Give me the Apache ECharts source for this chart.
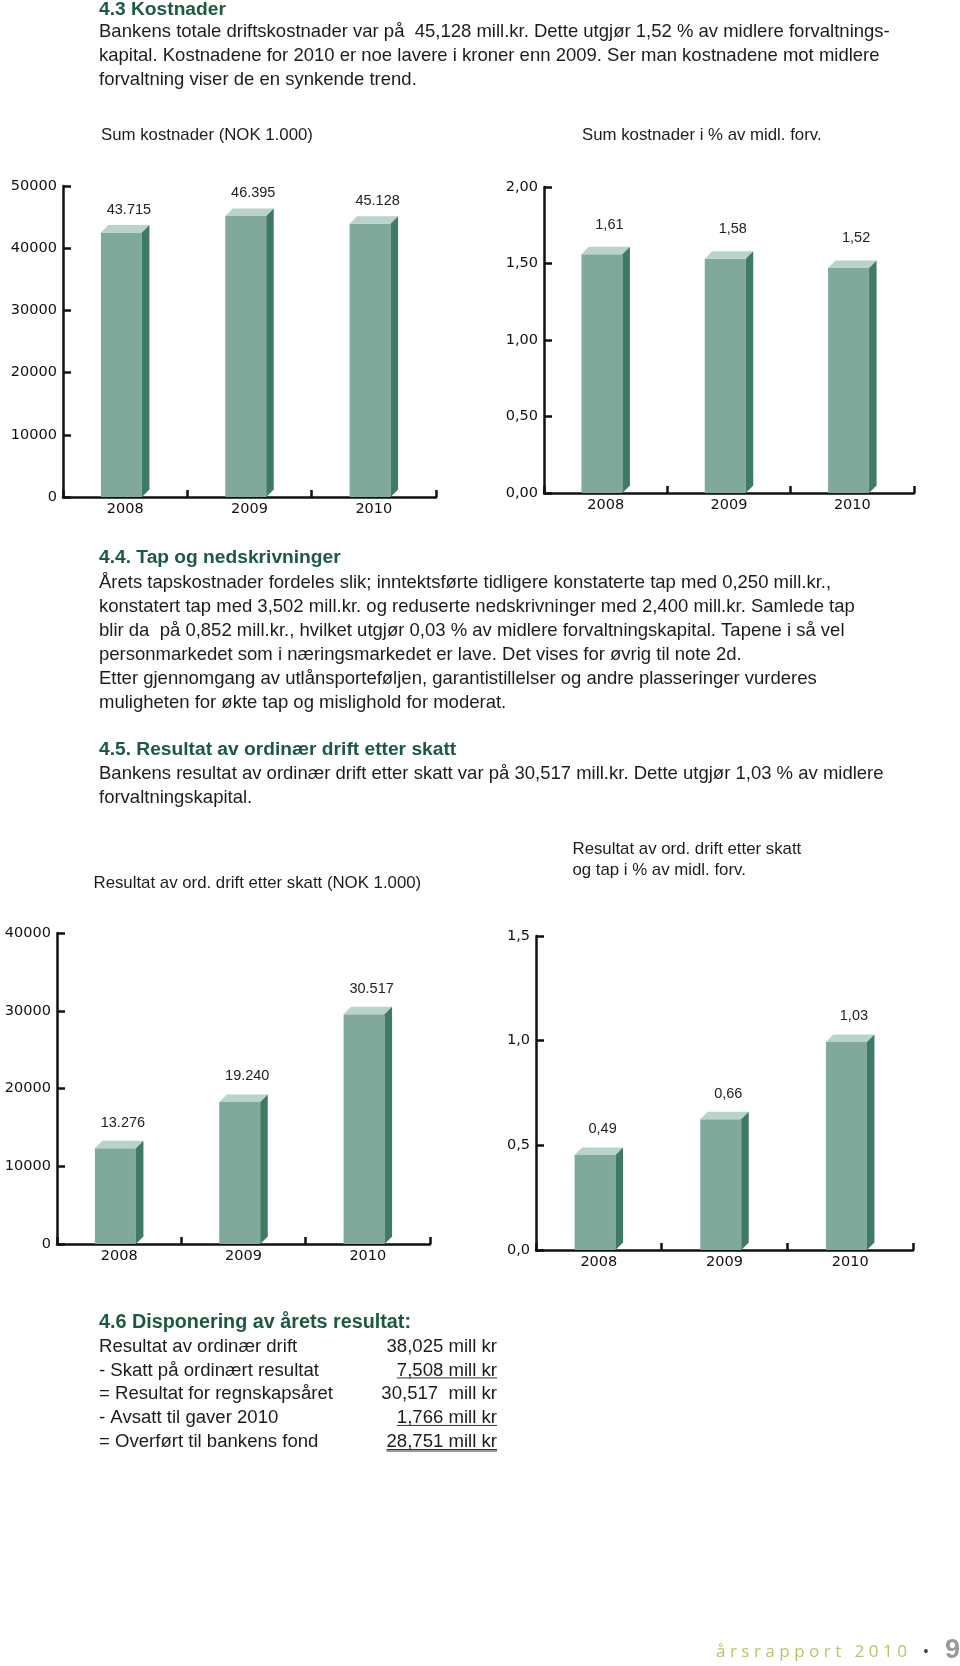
<!DOCTYPE html>
<html><head><meta charset="utf-8">
<script src="https://cdn.jsdelivr.net/npm/echarts@6/dist/echarts.min.js"></script>
<style>html,body{margin:0;padding:0;background:#fff}#c{width:960px;height:1666px}</style>
</head><body><div id="c"></div>
<script>
// ---------- data ----------
const years = ['2008', '2009', '2010'];
const costNOK = [43715, 46395, 45128];
const costPct = [1.61, 1.58, 1.52];
const resultNOK = [13276, 19240, 30517];
const resultPct = [0.49, 0.66, 1.03];
const costNOKTicks = [0, 10000, 20000, 30000, 40000, 50000];
const costPctTicks = [0, 0.5, 1.0, 1.5, 2.0];
const resultNOKTicks = [0, 10000, 20000, 30000, 40000];
const resultPctTicks = [0, 0.5, 1.0, 1.5];

const chartTitles = [
  'Sum kostnader (NOK 1.000)',
  'Sum kostnader i % av midl. forv.',
  'Resultat av ord. drift etter skatt (NOK 1.000)',
  'Resultat av ord. drift etter skatt',
  'og tap i % av midl. forv.'
];
const head43 = '4.3 Kostnader';
const text43 = [
  'Bankens totale driftskostnader var på  45,128 mill.kr. Dette utgjør 1,52 % av midlere forvaltnings-',
  'kapital. Kostnadene for 2010 er noe lavere i kroner enn 2009. Ser man kostnadene mot midlere',
  'forvaltning viser de en synkende trend.'
];
const head44 = '4.4. Tap og nedskrivninger';
const text44 = [
  'Årets tapskostnader fordeles slik; inntektsførte tidligere konstaterte tap med 0,250 mill.kr.,',
  'konstatert tap med 3,502 mill.kr. og reduserte nedskrivninger med 2,400 mill.kr. Samlede tap',
  'blir da  på 0,852 mill.kr., hvilket utgjør 0,03 % av midlere forvaltningskapital. Tapene i så vel',
  'personmarkedet som i næringsmarkedet er lave. Det vises for øvrig til note 2d.',
  'Etter gjennomgang av utlånsporteføljen, garantistillelser og andre plasseringer vurderes',
  'muligheten for økte tap og mislighold for moderat.'
];
const head45 = '4.5. Resultat av ordinær drift etter skatt';
const text45 = [
  'Bankens resultat av ordinær drift etter skatt var på 30,517 mill.kr. Dette utgjør 1,03 % av midlere',
  'forvaltningskapital.'
];
const head46 = '4.6 Disponering av årets resultat:';
const tableLabels = [
  'Resultat av ordinær drift',
  '- Skatt på ordinært resultat',
  '= Resultat for regnskapsåret',
  '- Avsatt til gaver 2010',
  '= Overført til bankens fond'
];
const tableValues = ['38,025 mill kr', '7,508 mill kr', '30,517  mill kr', '1,766 mill kr', '28,751 mill kr'];
const tableUnderline = [0, 1, 0, 1, 2];
const footerText = 'å r s r a p p o r t   2 0 1 0';
const pageNo = '9';

// ---------- helpers ----------
const mctx = document.createElement('canvas').getContext('2d');
function measure(t, font) { mctx.font = font; return mctx.measureText(t).width; }
function fit(t, weight, fam, target) { return 100 * target / measure(t, weight + ' 100px ' + fam); }
const SANS = '"Liberation Sans", Arial, sans-serif';
const AX = '"DejaVu Sans", sans-serif';

const fmtThousand = v => String(Math.round(v)).replace(/\B(?=(\d{3})+(?!\d))/g, '.');
const fmtDec = d => v => v.toFixed(d).replace('.', ',');

const GREEN_HEAD = '#1b5a3e';
const TXT = '#1c1c1c';

const bodySize = fit(text43[0], '', '"Liberation Sans"', 791);
const headSize = fit(head43, 'bold', '"Liberation Sans"', 127);
const titleSize = fit(chartTitles[2], '', '"Liberation Sans"', 328);
const tabSize = fit(tableLabels[2], '', '"Liberation Sans"', 234);
const tabHeadSize = fit(head46, 'bold', '"Liberation Sans"', 312);

const graphics = [];
function T(text, x, y, size, opts) {
  opts = opts || {};
  const font = (opts.weight || 'normal') + ' ' + size.toFixed(2) + 'px ' + (opts.family || SANS);
  graphics.push({
    type: 'text', x: x, y: y, silent: true,
    style: {
      text: text, font: font, fill: opts.fill || TXT,
      align: opts.align || 'left', textAlign: opts.align || 'left',
      verticalAlign: 'middle', textVerticalAlign: 'middle'
    }
  });
  return font;
}
function L(x1, y1, x2, y2, w, c) {
  graphics.push({ type: 'line', silent: true, shape: { x1: x1, y1: y1, x2: x2, y2: y2 }, style: { stroke: c, lineWidth: w } });
}

// section 4.3
T(head43, 99, 9.5, headSize, { weight: 'bold', fill: GREEN_HEAD });
text43.forEach((s, i) => T(s, 99, 32 + i * 24, bodySize));
// chart titles
T(chartTitles[0], 101, 135, titleSize);
T(chartTitles[1], 582, 135, titleSize);
T(chartTitles[2], 93.5, 883, titleSize);
T(chartTitles[3], 572.5, 849, titleSize);
T(chartTitles[4], 572.5, 870.5, titleSize);
// section 4.4
T(head44, 99, 558, headSize, { weight: 'bold', fill: GREEN_HEAD });
text44.forEach((s, i) => T(s, 99, 582.5 + i * 24, bodySize));
// section 4.5
T(head45, 99, 750, headSize, { weight: 'bold', fill: GREEN_HEAD });
text45.forEach((s, i) => T(s, 99, 774 + i * 24, bodySize));
// section 4.6
T(head46, 99, 1323, tabHeadSize, { weight: 'bold', fill: GREEN_HEAD });
tableLabels.forEach((s, i) => {
  const y = 1346.7 + i * 23.75;
  T(s, 99, y, tabSize);
  const f = T(tableValues[i], 497, y, tabSize, { align: 'right' });
  const w = measure(tableValues[i], f);
  if (tableUnderline[i] === 1) L(497 - w, y + 7.5, 497, y + 7.5, 1, '#333');
  if (tableUnderline[i] === 2) { L(497 - w, y + 8, 497, y + 8, 1.6, '#333'); L(497 - w, y + 9.8, 497, y + 9.8, 1.2, '#999'); }
});
// footer
const footSize = fit(footerText, '', '"Open Sans"', 191);
T(footerText, 716, 1652, footSize, { family: '"Open Sans", sans-serif', fill: '#b3c76a' });
T('•', 926, 1652, 14, { family: SANS, fill: '#2d4a3c', align: 'center' });
T(pageNo, 945, 1651, 27, { weight: 'bold', fill: '#999999' });

// ---------- 3D bar renderer ----------
const BW = 41, BD = 7.5;
function box3d(fmt, labelGap) {
  return function (params, api) {
    const idx = api.value(0), v = api.value(1);
    const top = api.coord([idx, v]);
    const base = api.coord([idx, 0]);
    const cx = top[0], yT = top[1], y0 = base[1];
    const fl = cx - (BW + BD) / 2;
    return {
      type: 'group', children: [
        { type: 'rect', shape: { x: fl, y: yT + BD, width: BW, height: y0 - yT - BD }, style: { fill: '#80a99b' } },
        { type: 'polygon', shape: { points: [[fl, yT + BD], [fl + BW, yT + BD], [fl + BW + BD, yT], [fl + BD, yT]] }, style: { fill: '#b9d3c8' } },
        { type: 'polygon', shape: { points: [[fl + BW, yT + BD], [fl + BW + BD, yT], [fl + BW + BD, y0 - BD], [fl + BW, y0]] }, style: { fill: '#3f7b64' } },
        { type: 'text', x: fl + BD + BW / 2, y: yT - labelGap,
          style: { text: fmt(v), font: '14.5px "Liberation Sans", Arial, sans-serif', fill: '#222',
                   align: 'center', textAlign: 'center', verticalAlign: 'middle', textVerticalAlign: 'middle' } }
      ]
    };
  };
}

const axisLineStyle = { color: '#111', width: 2.5 };
function xA(gi) {
  return {
    type: 'category', gridIndex: gi, data: years, boundaryGap: true,
    axisLine: { show: true, lineStyle: axisLineStyle },
    axisTick: { show: true, inside: true, length: 7, lineStyle: axisLineStyle },
    axisLabel: { margin: 5, fontFamily: AX, fontSize: 14.5, color: '#111' },
    splitLine: { show: false }
  };
}
function yA(gi, ticks, fmt) {
  return {
    type: 'value', gridIndex: gi, min: ticks[0], max: ticks[ticks.length - 1], interval: ticks[1] - ticks[0],
    axisLine: { show: true, lineStyle: axisLineStyle },
    axisTick: { show: true, inside: true, length: 8, lineStyle: axisLineStyle },
    axisLabel: { margin: 6, fontFamily: AX, fontSize: 14.5, color: '#111', formatter: fmt },
    splitLine: { show: false }
  };
}
function S(gi, vals, fmt, gap) {
  return {
    type: 'custom', xAxisIndex: gi, yAxisIndex: gi, clip: false,
    data: vals.map((v, i) => [i, v]), encode: { x: 0, y: 1 },
    renderItem: box3d(fmt, gap)
  };
}

const chart = echarts.init(document.getElementById('c'), null, { renderer: 'canvas' });
chart.setOption({
  animation: false,
  backgroundColor: '#ffffff',
  grid: [
    { left: 63, top: 186, width: 373, height: 311 },
    { left: 544, top: 187, width: 370, height: 306 },
    { left: 57, top: 933, width: 373, height: 311 },
    { left: 536, top: 936, width: 377, height: 314 }
  ],
  xAxis: [xA(0), xA(1), xA(2), xA(3)],
  yAxis: [
    yA(0, costNOKTicks, v => String(v)),
    yA(1, costPctTicks, fmtDec(2)),
    yA(2, resultNOKTicks, v => String(v)),
    yA(3, resultPctTicks, fmtDec(1))
  ],
  series: [
    S(0, costNOK, fmtThousand, 15.5),
    S(1, costPct, fmtDec(2), 22),
    S(2, resultNOK, fmtThousand, 18),
    S(3, resultPct, fmtDec(2), 18)
  ],
  graphic: { elements: graphics }
});
</script>
</body></html>
